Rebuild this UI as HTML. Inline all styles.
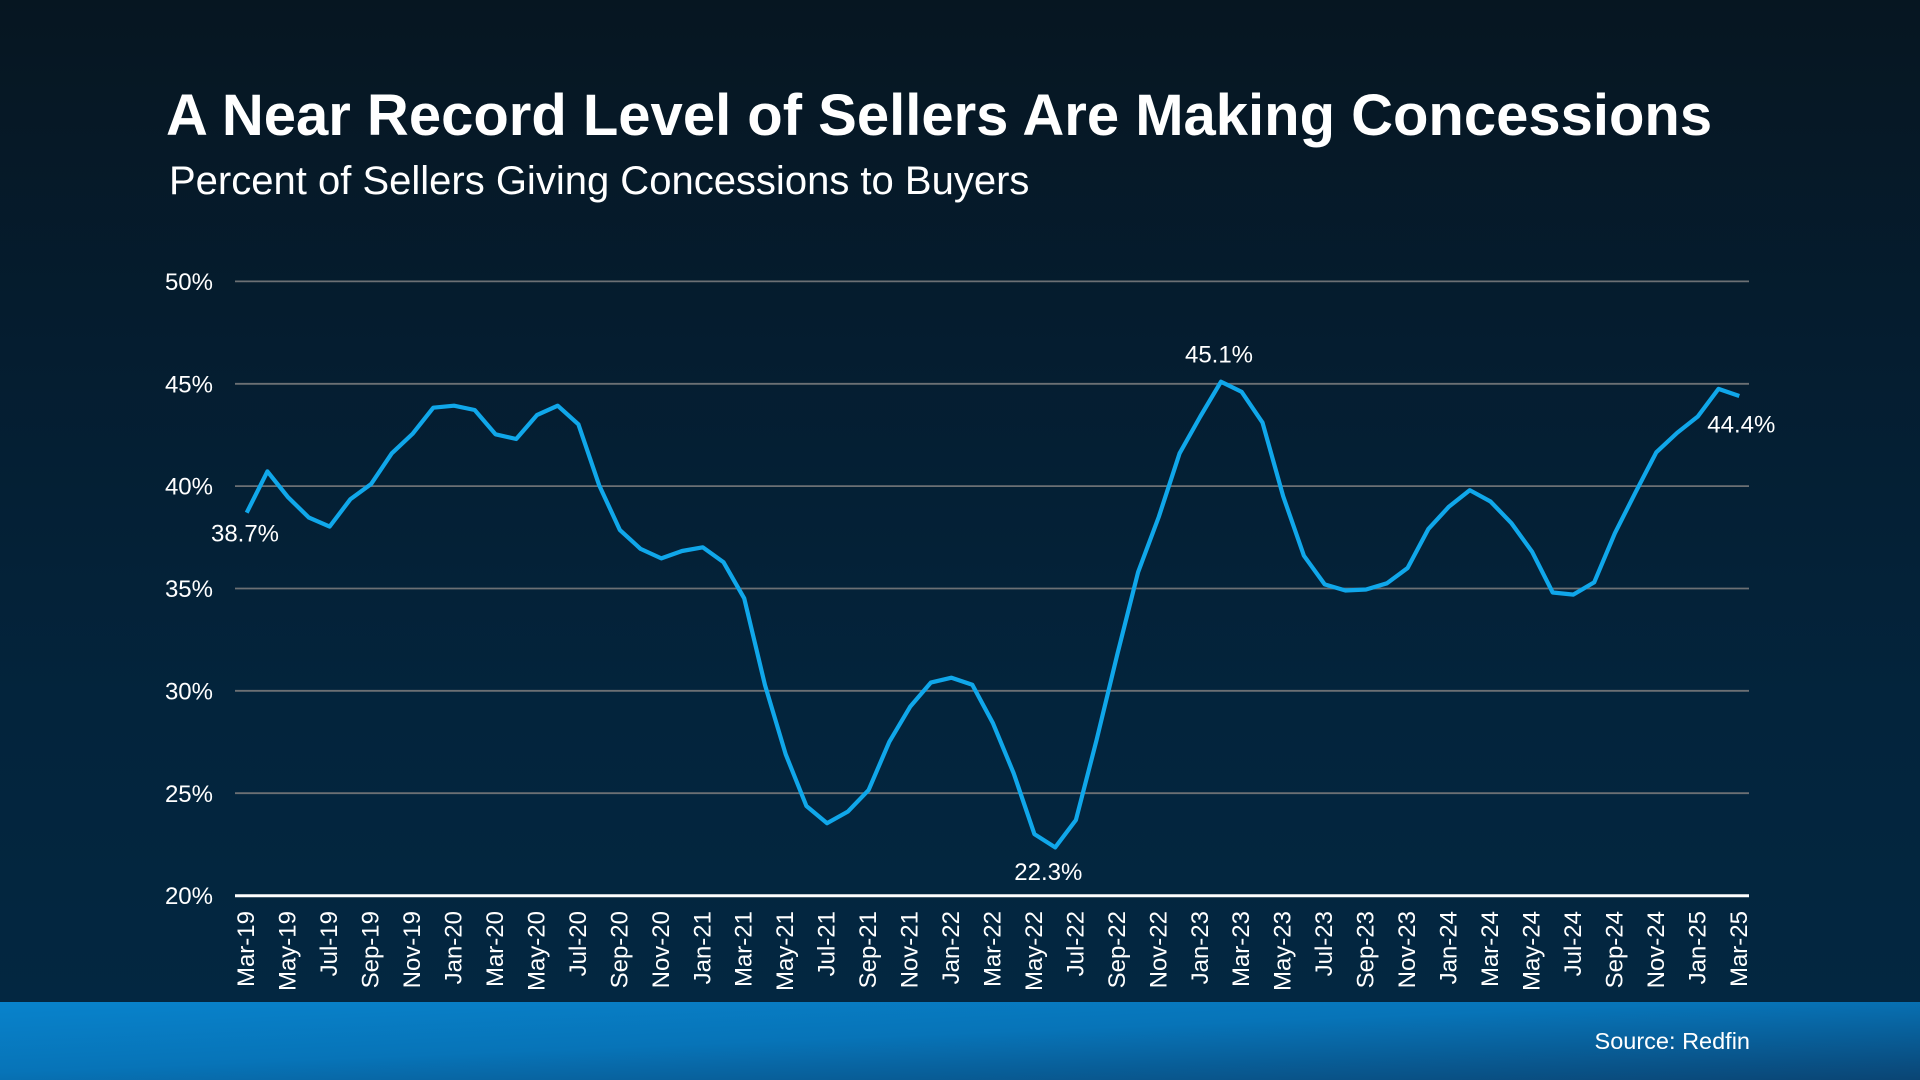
<!DOCTYPE html>
<html>
<head>
<meta charset="utf-8">
<style>
  html, body { margin: 0; padding: 0; width: 1920px; height: 1080px; overflow: hidden; background: #04203a; }
  svg { display: block; }
  text { font-family: "Liberation Sans", Arial, sans-serif; fill: #ffffff; }
</style>
</head>
<body>
<svg width="1920" height="1080" viewBox="0 0 1920 1080" xmlns="http://www.w3.org/2000/svg">
  <defs>
    <linearGradient id="bg" x1="0" y1="0" x2="0" y2="1">
      <stop offset="0" stop-color="#061621"/>
      <stop offset="0.35" stop-color="#051d30"/>
      <stop offset="0.7" stop-color="#03243c"/>
      <stop offset="1" stop-color="#032741"/>
    </linearGradient>
    <linearGradient id="band" x1="0" y1="0" x2="1" y2="1">
      <stop offset="0" stop-color="#0883cc"/>
      <stop offset="0.45" stop-color="#0774b8"/>
      <stop offset="1" stop-color="#0a4574"/>
    </linearGradient>
  </defs>

  <rect x="0" y="0" width="1920" height="1002" fill="url(#bg)"/>
  <rect x="0" y="1002" width="1920" height="78" fill="url(#band)"/>

  <!-- Title -->
  <text x="166" y="135" font-size="58" font-weight="bold">A Near Record Level of Sellers Are Making Concessions</text>
  <text x="169" y="194" font-size="40">Percent of Sellers Giving Concessions to Buyers</text>

  <!-- Gridlines -->
  <g stroke="#6c7074" stroke-width="1.8">
    <line x1="235" y1="281.4" x2="1749" y2="281.4"/>
    <line x1="235" y1="383.8" x2="1749" y2="383.8"/>
    <line x1="235" y1="486.1" x2="1749" y2="486.1"/>
    <line x1="235" y1="588.5" x2="1749" y2="588.5"/>
    <line x1="235" y1="690.8" x2="1749" y2="690.8"/>
    <line x1="235" y1="793.2" x2="1749" y2="793.2"/>
  </g>
  <line x1="235" y1="895.8" x2="1749" y2="895.8" stroke="#ffffff" stroke-width="3"/>

  <!-- Y labels -->
  <g font-size="24" text-anchor="end">
    <text x="213" y="290">50%</text>
    <text x="213" y="392.4">45%</text>
    <text x="213" y="494.7">40%</text>
    <text x="213" y="597.1">35%</text>
    <text x="213" y="699.4">30%</text>
    <text x="213" y="801.8">25%</text>
    <text x="213" y="904.1">20%</text>
  </g>

  <!-- X labels -->
  <g font-size="24" text-anchor="end" dominant-baseline="central">
    <text transform="translate(246.7,911) rotate(-90)">Mar-19</text>
    <text transform="translate(288.2,911) rotate(-90)">May-19</text>
    <text transform="translate(329.6,911) rotate(-90)">Jul-19</text>
    <text transform="translate(371.1,911) rotate(-90)">Sep-19</text>
    <text transform="translate(412.5,911) rotate(-90)">Nov-19</text>
    <text transform="translate(454.0,911) rotate(-90)">Jan-20</text>
    <text transform="translate(495.5,911) rotate(-90)">Mar-20</text>
    <text transform="translate(536.9,911) rotate(-90)">May-20</text>
    <text transform="translate(578.4,911) rotate(-90)">Jul-20</text>
    <text transform="translate(619.8,911) rotate(-90)">Sep-20</text>
    <text transform="translate(661.3,911) rotate(-90)">Nov-20</text>
    <text transform="translate(702.8,911) rotate(-90)">Jan-21</text>
    <text transform="translate(744.2,911) rotate(-90)">Mar-21</text>
    <text transform="translate(785.7,911) rotate(-90)">May-21</text>
    <text transform="translate(827.1,911) rotate(-90)">Jul-21</text>
    <text transform="translate(868.6,911) rotate(-90)">Sep-21</text>
    <text transform="translate(910.1,911) rotate(-90)">Nov-21</text>
    <text transform="translate(951.5,911) rotate(-90)">Jan-22</text>
    <text transform="translate(993.0,911) rotate(-90)">Mar-22</text>
    <text transform="translate(1034.4,911) rotate(-90)">May-22</text>
    <text transform="translate(1075.9,911) rotate(-90)">Jul-22</text>
    <text transform="translate(1117.4,911) rotate(-90)">Sep-22</text>
    <text transform="translate(1158.8,911) rotate(-90)">Nov-22</text>
    <text transform="translate(1200.3,911) rotate(-90)">Jan-23</text>
    <text transform="translate(1241.7,911) rotate(-90)">Mar-23</text>
    <text transform="translate(1283.2,911) rotate(-90)">May-23</text>
    <text transform="translate(1324.7,911) rotate(-90)">Jul-23</text>
    <text transform="translate(1366.1,911) rotate(-90)">Sep-23</text>
    <text transform="translate(1407.6,911) rotate(-90)">Nov-23</text>
    <text transform="translate(1449.0,911) rotate(-90)">Jan-24</text>
    <text transform="translate(1490.5,911) rotate(-90)">Mar-24</text>
    <text transform="translate(1532.0,911) rotate(-90)">May-24</text>
    <text transform="translate(1573.4,911) rotate(-90)">Jul-24</text>
    <text transform="translate(1614.9,911) rotate(-90)">Sep-24</text>
    <text transform="translate(1656.3,911) rotate(-90)">Nov-24</text>
    <text transform="translate(1697.8,911) rotate(-90)">Jan-25</text>
    <text transform="translate(1739.3,911) rotate(-90)">Mar-25</text>
  </g>

  <!-- Data line -->
  <polyline fill="none" stroke="#10a7ea" stroke-width="4.2" stroke-linejoin="round" stroke-linecap="butt"
    points="246.7,512.7 267.4,471.4 288.2,497.4 308.9,517.6 329.6,526.6 350.4,499.2 371.1,484.1 391.8,453.3 412.5,433.9 433.3,407.7 454.0,405.7 474.7,410.0 495.5,434.3 516.2,439.0 536.9,415.1 557.7,405.7 578.4,424.3 599.1,485.1 619.8,529.9 640.6,548.9 661.3,558.4 682.0,551.0 702.8,547.3 723.5,562.2 744.2,598.3 765.0,685.1 785.7,754.3 806.4,806.0 827.1,823.2 847.9,811.6 868.6,790.1 889.3,741.8 910.1,706.8 930.8,682.6 951.5,677.7 972.3,684.7 993.0,723.3 1013.7,773.3 1034.4,834.1 1055.2,847.4 1075.9,820.0 1096.6,739.9 1117.4,654.0 1138.1,572.1 1158.8,516.8 1179.6,453.3 1200.3,416.5 1221.0,381.7 1241.7,391.9 1262.5,422.6 1283.2,496.3 1303.9,555.7 1324.7,584.4 1345.4,590.5 1366.1,589.5 1386.9,583.3 1407.6,568.0 1428.3,529.1 1449.0,506.6 1469.8,490.2 1490.5,501.5 1511.2,522.9 1532.0,551.6 1552.7,592.5 1573.4,594.6 1594.2,582.3 1614.9,533.2 1635.6,492.2 1656.3,452.3 1677.1,432.9 1697.8,416.5 1718.5,388.9 1739.3,396.0"/>

  <!-- Data labels -->
  <g font-size="24">
    <text x="245" y="541.7" text-anchor="middle">38.7%</text>
    <text x="1219" y="362.3" text-anchor="middle">45.1%</text>
    <text x="1048.3" y="880" text-anchor="middle">22.3%</text>
    <text x="1707.3" y="432.7">44.4%</text>
  </g>

  <!-- Source -->
  <text x="1750" y="1049" font-size="23.5" text-anchor="end">Source: Redfin</text>
</svg>
</body>
</html>
